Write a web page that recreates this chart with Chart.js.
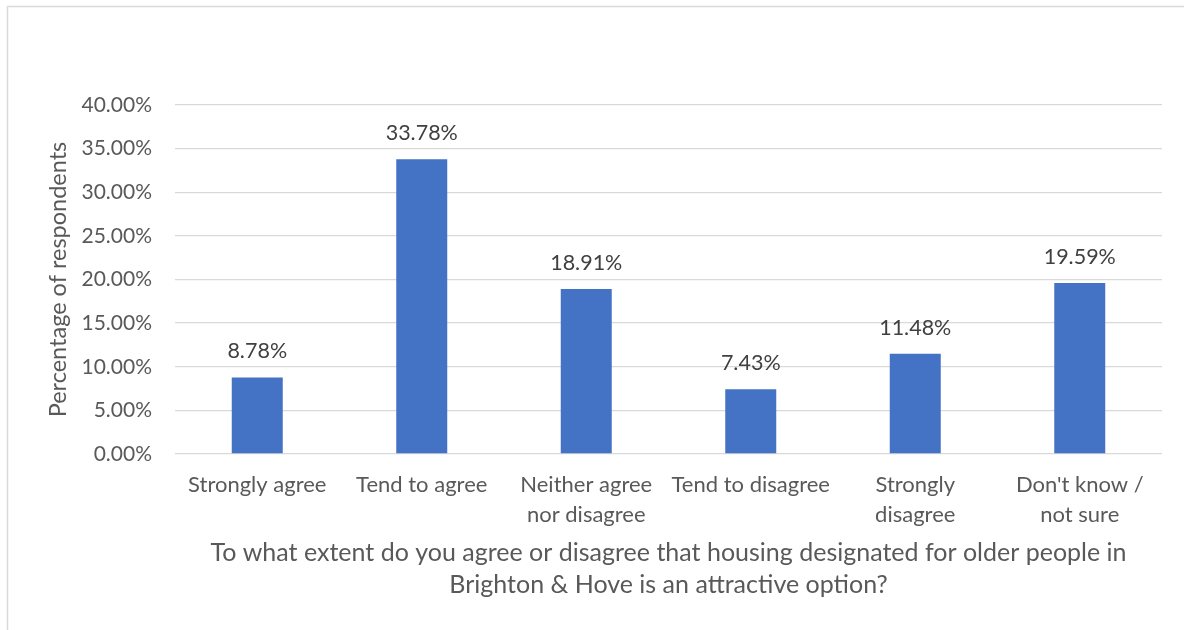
<!DOCTYPE html>
<html>
<head>
<meta charset="utf-8">
<script src="https://cdn.jsdelivr.net/npm/chart.js@4"></script>
<style>
  html, body { margin: 0; padding: 0; background: #fff; }
  #wrap { width: 1184px; height: 630px; }
</style>
</head>
<body>
<div id="wrap"><canvas id="chartAgree" width="1184" height="630"></canvas></div>
<script>
var categories = [
    'Strongly agree',
    'Tend to agree',
    ['Neither agree', 'nor disagree'],
    'Tend to disagree',
    ['Strongly', 'disagree'],
    ["Don't know /", 'not sure']
];
var percentages = [8.78, 33.78, 18.91, 7.43, 11.48, 19.59];
var yTicks = [0, 5, 10, 15, 20, 25, 30, 35, 40];

var fontFamily = 'Lato, "Open Sans", sans-serif';

var frame = {
    id: 'frame',
    beforeDraw: function (chart) {
        var c = chart.ctx;
        c.save();
        c.fillStyle = '#ffffff';
        c.fillRect(0, 0, chart.width, chart.height);
        c.strokeStyle = '#d9d9d9';
        c.lineWidth = 1.5;
        c.strokeRect(7.5, 6.5, 1300, 800);
        c.restore();
    }
};

var valueLabels = {
    id: 'valueLabels',
    afterDatasetsDraw: function (chart) {
        var c = chart.ctx;
        var meta = chart.getDatasetMeta(0);
        c.save();
        c.font = '21.5px ' + fontFamily;
        c.fillStyle = '#404040';
        c.textAlign = 'center';
        c.textBaseline = 'middle';
        meta.data.forEach(function (bar, i) {
            c.fillText(percentages[i].toFixed(2) + '%', bar.x, bar.y - 26);
        });
        c.restore();
    }
};

var ctx = document.getElementById('chartAgree').getContext('2d');
var myChart = new Chart(ctx, {
    type: 'bar',
    data: {
        labels: categories,
        datasets: [{
            label: 'Percentage of respondents',
            data: percentages,
            backgroundColor: '#4472c4',
            barPercentage: 0.31,
            categoryPercentage: 1
        }]
    },
    options: {
        responsive: false,
        animation: false,
        layout: { padding: { top: 105, right: 22, left: 0, bottom: 0 } },
        plugins: {
            legend: { display: false },
            tooltip: { enabled: false }
        },
        scales: {
            x: {
                grid: { display: false, drawTicks: false },
                border: { display: false },
                ticks: {
                    color: '#595959',
                    font: { family: fontFamily, size: 22, lineHeight: 1.364 },
                    padding: 16,
                    maxRotation: 0,
                    autoSkip: false
                },
                title: {
                    display: true,
                    text: ['To what extent do you agree or disagree that housing designated for older people in',
                           'Brighton & Hove is an attractive option?'],
                    color: '#595959',
                    font: { family: fontFamily, size: 25, lineHeight: 1.28 },
                    padding: { top: 0, bottom: 29 }
                },
                afterFit: function (scale) { scale.height = 176; }
            },
            y: {
                min: 0,
                max: 40,
                afterBuildTicks: function (scale) {
                    scale.ticks = yTicks.map(function (v) { return { value: v }; });
                },
                grid: { color: '#d9d9d9', lineWidth: 1.3, drawTicks: false },
                border: { display: false },
                ticks: {
                    color: '#595959',
                    font: { family: fontFamily, size: 21 },
                    padding: 23,
                    callback: function (v) { return Number(v).toFixed(2) + '%'; }
                },
                title: {
                    display: true,
                    text: 'Percentage of respondents',
                    color: '#595959',
                    font: { family: fontFamily, size: 23.5, lineHeight: 1.2 },
                    padding: { top: 44, bottom: 0 }
                },
                afterFit: function (scale) { scale.width = 175; }
            }
        }
    },
    plugins: [frame, valueLabels]
});
</script>
</body>
</html>
